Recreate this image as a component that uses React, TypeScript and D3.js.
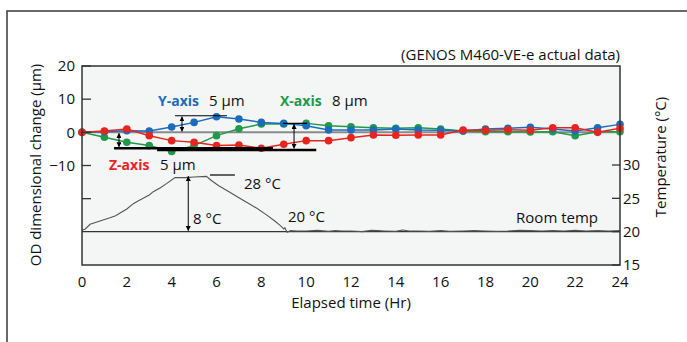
import * as d3 from 'd3'

// elapsed time (hr) for dimensional readings
const hours = [0, 1, 2, 3, 4, 5, 6, 7, 8, 9, 10, 11, 12, 13, 14, 15, 16, 17, 18, 19, 20, 21, 22, 23, 24]
const xAxisDelta = [0, -1.5, -3, -4, -5.8, -4, -1, 1.1, 2.5, 2.5, 2.7, 2, 1.7, 1.4, 1.2, 1.4, 1, 0.4, 0.2, 0.2, 0.1, 0.2, -1, 0.2, 0.2]
const yAxisDelta = [0, 0.2, 0.5, 0.4, 1.6, 3, 4.7, 4, 3, 2.7, 2, 0.7, 0.7, 0.7, 1, 0.7, 0.6, 0.4, 1, 1.2, 1.5, 1, 0.4, 1.4, 2.4]
const zAxisDelta = [0, 0.4, 1, -1, -2.5, -3, -4, -3.8, -4.8, -3.6, -2.5, -2.5, -1.6, -0.8, -0.9, -0.8, -0.8, 0.7, 0.6, 0.8, 0.6, 1.4, 1.4, 0, 1.2]

// room temperature log
const tempTime = [0, 0.15, 0.36, 0.8, 1.25, 1.5, 1.7, 2.0, 2.29, 2.5, 2.73, 3.0, 3.18, 3.5, 3.77, 4.15, 4.6, 5.0, 5.55, 5.8, 6.1, 6.5, 7.0, 7.4, 7.8, 8.2, 8.6, 8.85, 9.0, 9.05, 9.15, 9.3, 9.6, 10.0, 10.5, 11.0, 11.3, 11.6, 12.0, 12.5, 12.9, 13.2, 13.5, 14.0, 14.3, 14.6, 15.0, 15.5, 16.0, 16.4, 17.0, 17.5, 18.0, 18.5, 19.0, 19.5, 20.0, 20.5, 21.0, 21.5, 22.0, 22.5, 23.0, 23.5, 24.0]
const tempValue = [20.2, 20.4, 21.1, 21.6, 22.1, 22.4, 22.8, 23.4, 24.2, 24.6, 25.0, 25.5, 26.0, 26.6, 27.2, 28.1, 28.1, 28.2, 28.3, 27.6, 26.9, 26.1, 25.1, 24.3, 23.5, 22.6, 21.6, 20.9, 20.4, 20.6, 19.9, 20.15, 20.1, 20.1, 20.2, 20.05, 20.15, 20.1, 20.1, 20.0, 20.2, 20.15, 20.1, 20.05, 20.25, 20.1, 20.1, 20.05, 20.15, 20.05, 20.1, 20.15, 20.1, 20.05, 20.1, 20.2, 20.15, 20.1, 20.15, 20.1, 20.2, 20.1, 20.15, 20.1, 20.15]

const xTicks = [0, 2, 4, 6, 8, 10, 12, 14, 16, 18, 20, 22, 24]
const leftTicks = [20, 10, 0, -10, -20]
const leftTickLabels = ['20', '10', '0', '\u221210', '']
const rightTicks = [15, 20, 25, 30]

const BLUE = '#1b6cbd'
const GREEN = '#1e9a48'
const RED = '#e8241f'
const FONT = '"Open Sans", sans-serif'
const FS = 15

export default function App() {
  const left = 82, right = 620, top = 66, bottom = 265
  const x = d3.scaleLinear().domain([0, 24]).range([left, right])
  const y = d3.scaleLinear().domain([-40, 20]).range([bottom, top])
  const yT = d3.scaleLinear().domain([15, 30]).range([bottom, 165])

  const series = [
    { values: xAxisDelta, color: GREEN },
    { values: yAxisDelta, color: BLUE },
    { values: zAxisDelta, color: RED },
  ]
  const line = (vals: number[]) =>
    d3.line<number>().x((_, i) => x(hours[i])).y(v => y(v))(vals) || ''
  const tempLine = d3.line<number>().x((_, i) => x(tempTime[i])).y(v => yT(v))(tempValue) || ''

  const arrow = (xh: number, y0: number, y1: number, key: string) => (
    <line key={key} x1={xh} x2={xh} y1={y0} y2={y1} stroke="#000" strokeWidth={1}
      markerStart="url(#ah)" markerEnd="url(#ah)" />
  )

  return (
    <div style={{ position: 'fixed', left: 0, top: 0 }}>
      <svg width={687} height={342} style={{ display: 'block', fontFamily: FONT }}>
        <defs>
          <marker id="ah" viewBox="0 0 6 6" refX={5.5} refY={3} markerWidth={5} markerHeight={5} orient="auto-start-reverse">
            <path d="M0,0 L6,3 L0,6 Z" fill="#000" />
          </marker>
        </defs>
        <rect width={687} height={342} fill="#fff" />
        <rect x={7} y={11} width={720} height={400} fill="none" stroke="#444" strokeWidth={1.6} />

        {/* plot area */}
        <rect x={left} y={top} width={right - left} height={bottom - top} fill="#f4f5f5" />

        {/* zero and room temp reference lines */}
        <line x1={left} x2={right} y1={y(0)} y2={y(0)} stroke="#8a8a8a" strokeWidth={2} />
        <line x1={left} x2={right} y1={yT(20)} y2={yT(20)} stroke="#333" strokeWidth={1.2} />

        {/* temperature */}
        <path d={tempLine} fill="none" stroke="#555" strokeWidth={1.1} />

        {/* series */}
        {series.map((s, si) => (
          <g key={si}>
            <path d={line(s.values)} fill="none" stroke={s.color} strokeWidth={1.5} />
            {s.values.map((v, i) => (
              <circle key={i} cx={x(hours[i])} cy={y(v)} r={3.8} fill={s.color} />
            ))}
          </g>
        ))}

        {/* Y-axis amplitude bracket */}
        <line x1={x(4.15)} x2={x(6.47)} y1={y(5)} y2={y(5)} stroke="#000" strokeWidth={1.2} />
        {arrow(x(4.46), y(5) + 1, y(0) - 1, 'ya')}
        {/* Z-axis amplitude bracket */}
        <line x1={x(1.43)} x2={x(8.52)} y1={y(-4.8)} y2={y(-4.8)} stroke="#000" strokeWidth={2.5} />
        {arrow(x(1.65), y(0) + 1, y(-4.8) - 1.5, 'za')}
        {/* X-axis amplitude bracket */}
        <line x1={x(8.97)} x2={x(10.04)} y1={y(2.7)} y2={y(2.7)} stroke="#000" strokeWidth={1.2} />
        <line x1={x(3.35)} x2={x(10.45)} y1={y(-5.3)} y2={y(-5.3)} stroke="#000" strokeWidth={2.5} />
        {arrow(x(9.46), y(2.7) + 1, y(-5.3) - 1.5, 'xa')}
        {/* temperature amplitude */}
        <line x1={x(5.71)} x2={x(6.82)} y1={yT(28.5)} y2={yT(28.5)} stroke="#000" strokeWidth={1.2} />
        {arrow(x(4.74), yT(28.3), yT(20) - 1, 'ta')}

        {/* frame */}
        <rect x={left} y={top} width={right - left} height={bottom - top} fill="none" stroke="#333" strokeWidth={1.5} />

        {/* left axis */}
        {leftTicks.map((t, i) => (
          <g key={t}>
            <line x1={left} x2={left + 9} y1={y(t)} y2={y(t)} stroke="#333" strokeWidth={1.3} />
            <text x={left - 7} y={y(t)} dy="0.35em" textAnchor="end" fontSize={FS} fill="#111">{leftTickLabels[i]}</text>
          </g>
        ))}
        {/* right axis */}
        {rightTicks.map(t => (
          <g key={t}>
            <line x1={right - 8} x2={right} y1={yT(t)} y2={yT(t)} stroke="#333" strokeWidth={1.3} />
            <text x={right + 3} y={yT(t)} dy="0.35em" fontSize={FS} fill="#111">{t}</text>
          </g>
        ))}
        {/* bottom axis */}
        {xTicks.map(t => (
          <text key={t} x={x(t)} y={282} dy="0.35em" textAnchor="middle" fontSize={FS} fill="#111">{t}</text>
        ))}

        {/* axis titles */}
        <text x={351} y={302.5} dy="0.35em" textAnchor="middle" fontSize={FS} fill="#111">Elapsed time (Hr)</text>
        <text transform="translate(36,165) rotate(-90)" dy="0.35em" textAnchor="middle" fontSize={FS} fill="#111">OD dimensional change (µm)</text>
        <text transform="translate(661,157) rotate(-90)" dy="0.35em" textAnchor="middle" fontSize={FS} fill="#111">Temperature (°C)</text>
        <text x={620} y={55} dy="0.35em" textAnchor="end" fontSize={FS} fill="#111">(GENOS M460-VE-e actual data)</text>

        {/* annotations */}
        <text x={158} y={101} dy="0.35em" fontSize={14} fontWeight="bold" fill={BLUE}>Y-axis</text>
        <text x={209} y={101} dy="0.35em" fontSize={FS} fill="#111">5 µm</text>
        <text x={280} y={101} dy="0.35em" fontSize={14} fontWeight="bold" fill={GREEN}>X-axis</text>
        <text x={332} y={101} dy="0.35em" fontSize={FS} fill="#111">8 µm</text>
        <text x={109} y={165} dy="0.35em" fontSize={14} fontWeight="bold" fill={RED}>Z-axis</text>
        <text x={160} y={165} dy="0.35em" fontSize={FS} fill="#111">5 µm</text>
        <text x={244} y={184} dy="0.35em" fontSize={FS} fill="#111">28 °C</text>
        <text x={193} y={219} dy="0.35em" fontSize={FS} fill="#111">8 °C</text>
        <text x={288} y={217} dy="0.35em" fontSize={FS} fill="#111">20 °C</text>
        <text x={598} y={218} dy="0.35em" textAnchor="end" fontSize={FS} fill="#111">Room temp</text>
      </svg>
    </div>
  )
}
